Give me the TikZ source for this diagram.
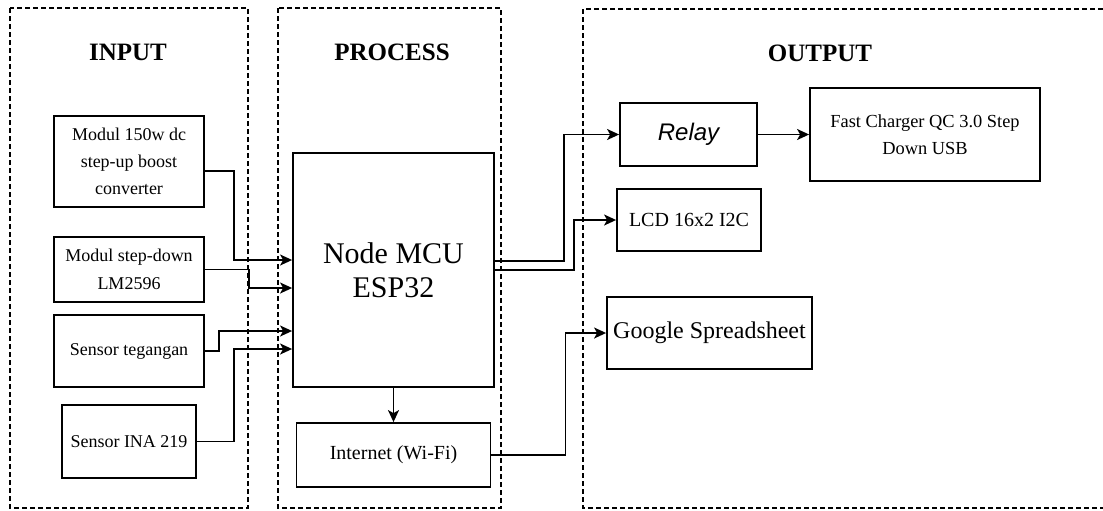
\documentclass[tikz,border=0pt]{standalone}
\usepackage{fontspec}
\setmainfont{Liberation Serif}
\newfontfamily\arialfont{Liberation Sans}
\usepackage{tikz}
\usetikzlibrary{arrows.meta}

\begin{document}
\begin{tikzpicture}[x=0.5pt,y=-0.5pt,
  blok/.style={draw,line width=0.9pt,align=center,inner sep=1pt},
  panel/.style={line width=0.6pt,dash pattern=on 2.5pt off 1.5pt},
  judul/.style={font=\fontsize{12.5}{15}\selectfont\bfseries},
  arr/.style={-{Stealth[length=6pt,width=5.5pt,inset=1.5pt]},line width=0.8pt}]
  \useasboundingbox (0,0) rectangle (1103,510);

  % panels
  \draw[panel] (10,8) rectangle (248,508);
  \draw[panel] (278,8) rectangle (501,508);
  \draw[panel] (1103,9) -- (583,9) -- (583,508) -- (1103,508);

  \node[judul] (tin) at (128,52) {INPUT};
  \node[judul] (tpr) at (392,52) {PROCESS};
  \node[judul] (tout) at (820,53) {OUTPUT};

  % input
  \node[blok,minimum width=75pt,minimum height=45.5pt,font=\fontsize{9}{13.5}\selectfont] (boost) at (129,161.5) {Modul 150w dc\\step-up boost\\converter};
  \node[blok,minimum width=75pt,minimum height=32.5pt,font=\fontsize{9}{14}\selectfont] (down) at (129,269.5) {Modul step-down\\LM2596};
  \node[blok,minimum width=75pt,minimum height=36pt,font=\fontsize{9}{13.5}\selectfont] (teg) at (129,351) {Sensor tegangan};
  \node[blok,minimum width=67pt,minimum height=36.5pt,font=\fontsize{9}{13.5}\selectfont] (ina) at (129,441.5) {Sensor INA 219};

  % process
  \node[blok,minimum width=100.5pt,minimum height=117pt,font=\fontsize{15}{17}\selectfont] (mcu) at (393.5,270) {Node MCU\\ESP32};
  \node[blok,minimum width=97pt,minimum height=32pt,font=\fontsize{10}{12}\selectfont] (inet) at (393.5,455) {Internet (Wi-Fi)};

  % output
  \node[blok,minimum width=68.5pt,minimum height=31.5pt,font=\fontsize{12}{14}\arialfont\itshape] (relay) at (688.5,134.5) {Relay};
  \node[blok,minimum width=115pt,minimum height=46.5pt,font=\fontsize{9.2}{13.5}\selectfont] (charger) at (925,134.5) {Fast Charger QC 3.0 Step\\Down USB};
  \node[blok,minimum width=72pt,minimum height=31pt,font=\fontsize{10}{12}\selectfont] (lcd) at (689,220) {LCD 16x2 I2C};
  \node[blok,minimum width=102.5pt,minimum height=36pt,font=\fontsize{12}{14}\selectfont] (gsheet) at (709.5,333) {Google Spreadsheet};

  \draw[arr] ([yshift=-4.75pt]boost.east) -- ++(29,0) |- ([yshift=5pt]mcu.west);
  \draw[arr] (down.east) -- ++(44,0) |- ([yshift=-9pt]mcu.west);
  \draw[arr] (teg.east) -- ++(14,0) |- ([yshift=-30.5pt]mcu.west);
  \draw[arr] (ina.east) -- ++(37,0) |- ([yshift=-39.5pt]mcu.west);
  \draw[arr] (mcu.south) -- (inet.north);
  \draw[arr] ([yshift=4.5pt]mcu.east) -- ++(69,0) |- (relay.west);
  \draw[arr] (mcu.east) -- ++(79,0) |- (lcd.west);
  \draw[arr] (relay) -- (charger);
  \draw[arr] (inet.east) -- ++(74,0) |- (gsheet.west);
\end{tikzpicture}
\end{document}
